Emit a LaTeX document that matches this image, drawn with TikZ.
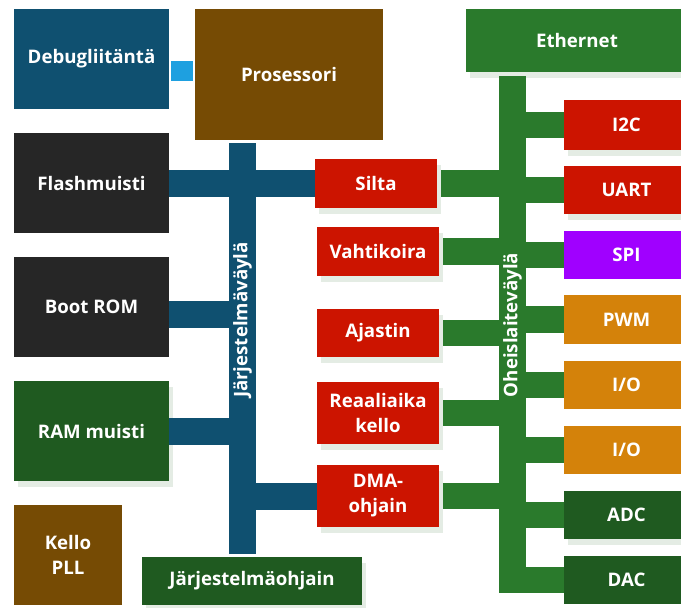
\documentclass[tikz,border=0pt]{standalone}
\usepackage{fontspec}
\setmainfont{Open Sans}
\usetikzlibrary{shadows,backgrounds}

\definecolor{sysblue}{HTML}{0F5070}
\definecolor{linkblue}{HTML}{1EA0E0}
\definecolor{cpubrown}{HTML}{764B04}
\definecolor{darkbox}{HTML}{262626}
\definecolor{perigreen}{HTML}{2A7A2C}
\definecolor{deepgreen}{HTML}{1F5A20}
\definecolor{unitred}{HTML}{CC1400}
\definecolor{spipurple}{HTML}{A000FF}
\definecolor{ioorange}{HTML}{D4820A}
\definecolor{shadowc}{HTML}{E4ECE4}

% name, style, x1, y1, x2, y2, text  (coordinates in pixels)
\newcommand\mkbox[7]{%
  \pgfmathsetmacro\bxw{(#5-#3)*0.75}%
  \pgfmathsetmacro\bxh{(#6-#4)*0.75}%
  \node[blk,#2,minimum width=\bxw pt,minimum height=\bxh pt] (#1)
    at ({(#3+#5)/2},{(#4+#6)/2}) {#7};}

\begin{document}
\begin{tikzpicture}[x=0.75pt,y=-0.75pt,
  blk/.style={rectangle,inner sep=0pt,text=white,align=center,
    font=\bfseries\fontsize{14}{18.75}\selectfont},
  shd/.style={drop shadow={shadow xshift=3pt,shadow yshift=-4.5pt,
    fill=shadowc,opacity=1}},
  blue box/.style={fill=sysblue},
  brown box/.style={fill=cpubrown},
  dark box/.style={fill=darkbox},
  green box/.style={fill=perigreen},
  deep box/.style={fill=deepgreen},
  red box/.style={fill=unitred},
  purple box/.style={fill=spipurple},
  orange box/.style={fill=ioorange},
  sysbar/.style={draw=sysblue,line width=20.25pt},
  peribar/.style={draw=perigreen,line width=20pt},
  linkbar/.style={draw=linkblue,line width=15pt,shorten <=1.5pt,shorten >=1.5pt},
  buslbl/.style={text=white,inner sep=0pt,rotate=90,
    font=\bfseries\fontsize{14}{18.75}\selectfont}]

\useasboundingbox (0,0) rectangle (681,607);

% left column
\mkbox{debug}{blue box}{14}{9}{169}{109}{Debugliitäntä}
\mkbox{flash}{dark box}{14}{133}{169}{233}{Flashmuisti}
\mkbox{boot}{dark box}{14}{257}{169}{357}{Boot ROM}
\mkbox{ram}{deep box,shd}{14}{381}{169}{481}{RAM muisti}
\mkbox{pll}{brown box}{14}{505}{122}{605}{Kello\\PLL}

% processor, system bus and system controller
\mkbox{cpu}{brown box}{195}{9}{383}{140}{Prosessori}
\mkbox{sysbus}{blue box}{229}{143}{256}{554}{}
\mkbox{sysctl}{deep box,shd}{142}{557}{362}{605}{Järjestelmäohjain}

% units between the two buses
\mkbox{silta}{red box,shd}{315}{159}{437}{208}{Silta}
\mkbox{vahti}{red box,shd}{317}{227}{439}{276}{Vahtikoira}
\mkbox{ajastin}{red box,shd}{317}{309}{439}{357}{Ajastin}
\mkbox{rtc}{red box,shd}{317}{382}{439}{444}{Reaaliaika\\kello}
\mkbox{dma}{red box,shd}{317}{465}{439}{527}{DMA-\\ohjain}

% peripheral bus and peripherals
\mkbox{ether}{green box,shd}{466}{9}{688}{72}{Ethernet}
\mkbox{pbus}{green box}{499}{76}{526}{593}{}
\mkbox{i2c}{red box,shd}{564}{100}{689}{150}{I2C}
\mkbox{uart}{red box,shd}{564}{166}{689}{214}{UART}
\mkbox{spi}{purple box}{564}{231}{689}{279}{SPI}
\mkbox{pwm}{orange box}{564}{295}{689}{344}{PWM}
\mkbox{ioa}{orange box}{564}{361}{689}{409}{I/O}
\mkbox{iob}{orange box}{564}{426}{689}{474}{I/O}
\mkbox{adc}{deep box,shd}{564}{491}{689}{539}{ADC}
\mkbox{dac}{deep box}{564}{556}{689}{604}{DAC}

\coordinate (ydbg) at (0,71);
\coordinate (yboot) at (0,314.5);

% debug link
\draw[linkbar] (debug.east |- ydbg) -- (cpu.west |- ydbg);
% system bus branches
\draw[sysbar] (flash.east) -- (flash.east -| silta.west);
\draw[sysbar] (boot.east |- yboot) -- (sysbus.west |- yboot);
\draw[sysbar] (ram.east) -- (ram.east -| sysbus.west);
\draw[sysbar] (dma.west) -- (dma.west -| sysbus.east);

% bus names
\node[buslbl] (syslbl) at (242.5,320) {Järjestelmäväylä};
\node[buslbl] (perilbl) at (512.5,325) {Oheislaiteväylä};

\begin{pgfonlayer}{background}
  % peripheral bus branches, left side
  \foreach \n in {silta,vahti,ajastin,rtc,dma}
    \draw[peribar] (\n.east) -- (\n.east -| pbus.west);
  % peripheral bus branches, right side
  \foreach \n in {i2c,uart,spi,pwm,ioa,iob,adc,dac}
    \draw[peribar] (\n.west) -- (\n.west -| pbus.east);
\end{pgfonlayer}

\end{tikzpicture}
\end{document}
